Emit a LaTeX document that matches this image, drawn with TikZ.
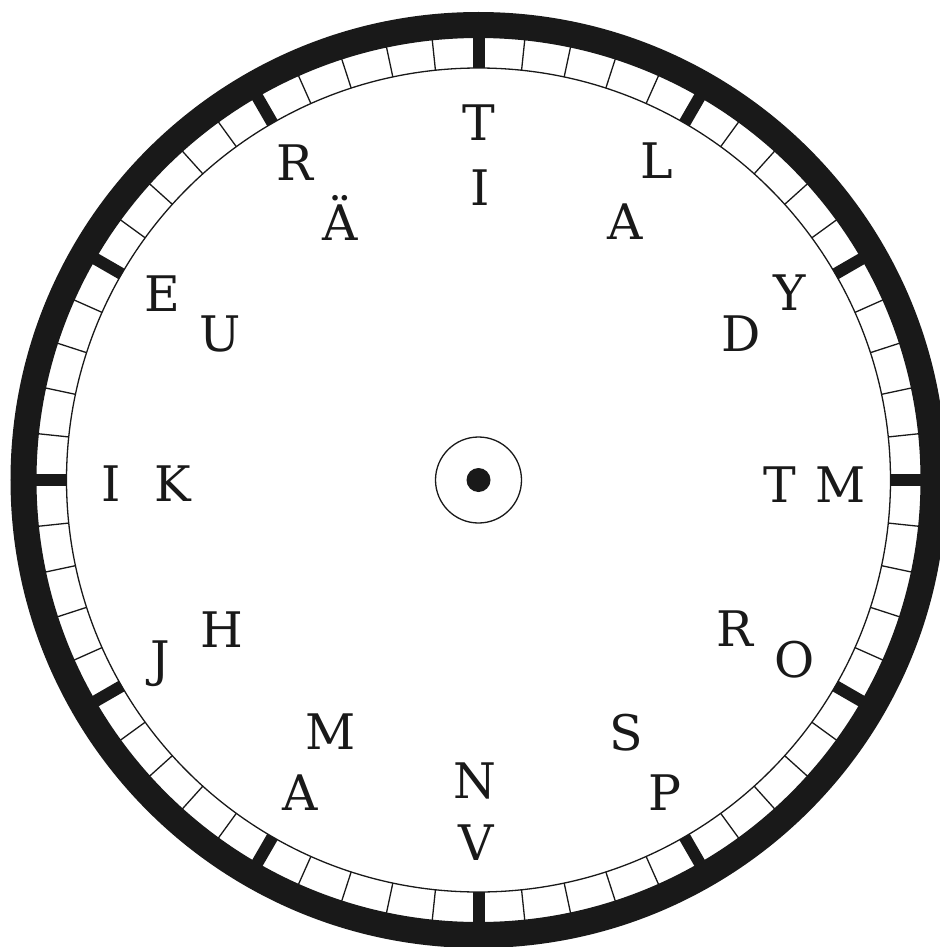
\documentclass[tikz,border=0pt]{standalone}
\usepackage{fontspec}
\setmainfont{DejaVu Serif}
\begin{document}
\begin{tikzpicture}[x=1pt,y=-1pt,
  letter/.style={anchor=base,inner sep=0pt,text=black!90,font=\fontsize{49}{50}\selectfont},
  thinline/.style={line width=1.3pt,black!90},
  bigtick/.style={line width=12pt,black!90},
  ringline/.style={line width=26pt,black!90}]
\useasboundingbox (0,0) rectangle (939,947);
\fill[white] (0,0) rectangle (939,947);
\coordinate (c) at (478.5,480);
% outer thick ring
\draw[ringline] (c) circle[radius=455];
% inner thin circle
\draw[thinline] (c) circle[radius=412];
% small ticks
\foreach \a in {0,6,...,354}{
  \draw[thinline] ([shift={(\a:412)}]c) -- ([shift={(\a:444)}]c);
}
% big ticks
\foreach \a in {0,30,...,330}{
  \draw[bigtick] ([shift={(\a:412)}]c) -- ([shift={(\a:446)}]c);
}
% hub
\draw[thinline] (c) circle[radius=43];
\fill[black!90] (c) circle[radius=12];
% letters
\node[letter] (t1) at (479,140) {T};
\node[letter] (i1) at (480,205) {I};
\node[letter] (l1) at (657,178) {L};
\node[letter] (a1) at (625,239) {A};
\node[letter] (r1) at (295,180) {R};
\node[letter] (ae) at (340,240) {Ä};
\node[letter] (e1) at (162,311) {E};
\node[letter] (u1) at (220,351) {U};
\node[letter] (y1) at (790,310) {Y};
\node[letter] (d1) at (741,351) {D};
\node[letter] (i2) at (111,501) {I};
\node[letter] (k1) at (173,501) {K};
\node[letter] (t2) at (780,502) {T};
\node[letter] (m1) at (841,502) {M};
\node[letter] (h1) at (222,647) {H};
\node[letter] (j1) at (160,676) {J};
\node[letter] (r2) at (735,646) {R};
\node[letter] (o1) at (795,677) {O};
\node[letter] (m2) at (331,749) {M};
\node[letter] (a2) at (300,810) {A};
\node[letter] (s1) at (626,750) {S};
\node[letter] (p1) at (665,810) {P};
\node[letter] (n1) at (475,798) {N};
\node[letter] (v1) at (476,860) {V};
\end{tikzpicture}
\end{document}
